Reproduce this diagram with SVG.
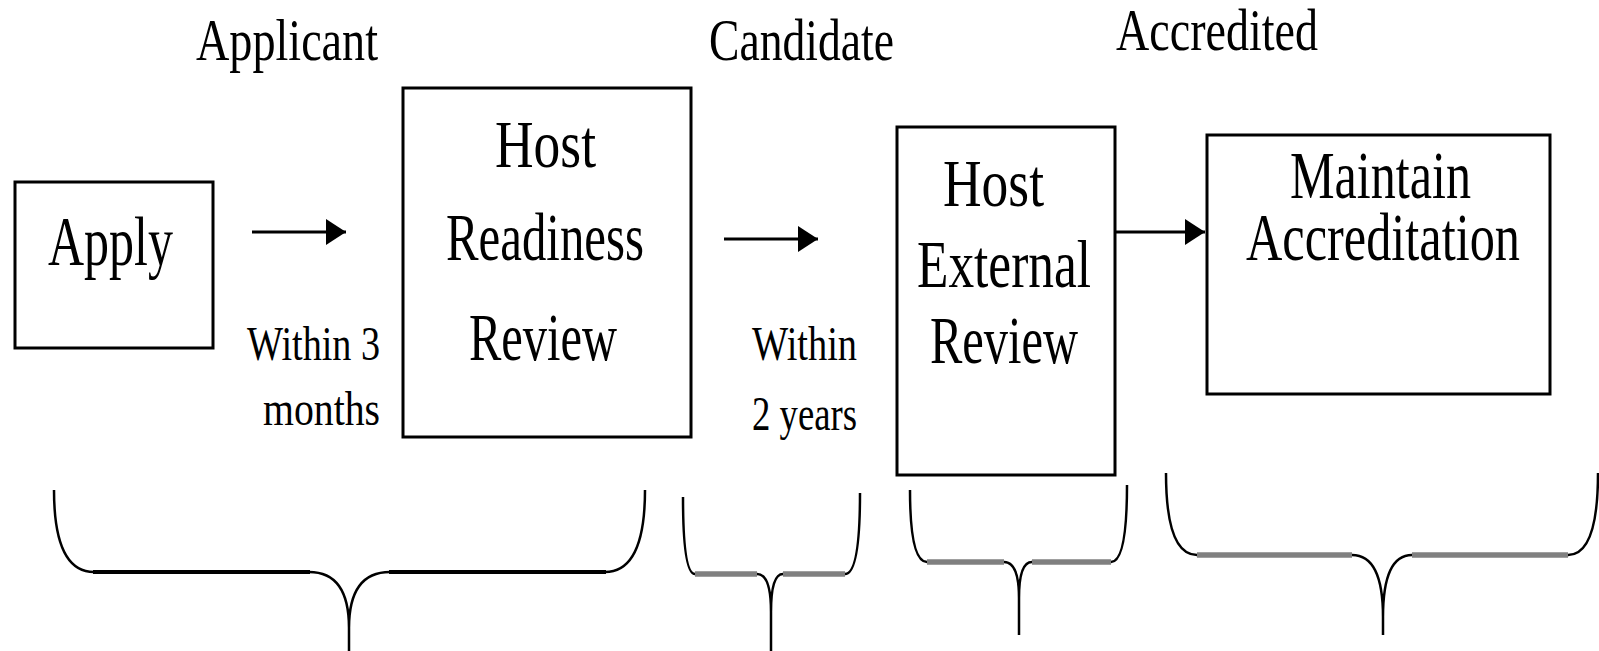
<svg xmlns="http://www.w3.org/2000/svg" width="1599" height="651" viewBox="0 0 1599 651">
<style>
.box{fill:#fff;stroke:#000;stroke-width:3}
.t{font-family:"Liberation Serif","Times New Roman",serif;fill:#000}
.big{font-size:68px}
.hdr{font-size:60px}
.sm{font-size:48px}
.conn{stroke:#000;stroke-width:3;fill:none}
.curve{stroke:#000;stroke-width:2.5;fill:none}
.hb{stroke:#000;stroke-width:4}
.hg{stroke:#808080;stroke-width:5.5}
</style>
<defs>
<marker id="ah" markerUnits="userSpaceOnUse" markerWidth="22" markerHeight="30" refX="20" refY="14" orient="auto">
<path d="M0,1 L20,14 L0,27 z" fill="#000"/>
</marker>
</defs>
<rect width="1599" height="651" fill="#fff"/>
<g id="headers">
<text class="t hdr" x="196" y="60" textLength="182" lengthAdjust="spacingAndGlyphs">Applicant</text>
<text class="t hdr" x="709" y="60" textLength="185" lengthAdjust="spacingAndGlyphs">Candidate</text>
<text class="t hdr" x="1116" y="50" textLength="202" lengthAdjust="spacingAndGlyphs">Accredited</text>
</g>
<g id="apply">
<rect class="box" x="15" y="182" width="198" height="166"/>
<text class="t" style="font-size:70px" x="48" y="265" textLength="125" lengthAdjust="spacingAndGlyphs">Apply</text>
</g>
<g id="readiness">
<rect class="box" x="403" y="88" width="288" height="349"/>
<text class="t big" x="495" y="167" textLength="101" lengthAdjust="spacingAndGlyphs">Host</text>
<text class="t big" x="446" y="260" textLength="198" lengthAdjust="spacingAndGlyphs">Readiness</text>
<text class="t big" x="469" y="360" textLength="148" lengthAdjust="spacingAndGlyphs">Review</text>
</g>
<g id="external">
<rect class="box" x="897" y="127" width="218" height="348"/>
<text class="t big" x="943" y="206" textLength="101" lengthAdjust="spacingAndGlyphs">Host</text>
<text class="t big" x="917" y="287" textLength="174" lengthAdjust="spacingAndGlyphs">External</text>
<text class="t big" x="930" y="363" textLength="148" lengthAdjust="spacingAndGlyphs">Review</text>
</g>
<g id="maintain">
<rect class="box" x="1207" y="135" width="343" height="259"/>
<text class="t big" x="1290" y="198" textLength="181" lengthAdjust="spacingAndGlyphs">Maintain</text>
<text class="t big" x="1246" y="260" textLength="274" lengthAdjust="spacingAndGlyphs">Accreditation</text>
</g>
<g id="connectors">
<line class="conn" x1="252" y1="232" x2="346" y2="232" marker-end="url(#ah)"/>
<line class="conn" x1="724" y1="239" x2="818" y2="239" marker-end="url(#ah)"/>
<line class="conn" x1="1115" y1="232" x2="1205" y2="232" marker-end="url(#ah)"/>
<text class="t sm" x="247" y="360" textLength="133" lengthAdjust="spacingAndGlyphs">Within 3</text>
<text class="t sm" x="263" y="425" textLength="117" lengthAdjust="spacingAndGlyphs">months</text>
<text class="t sm" x="752" y="360" textLength="105" lengthAdjust="spacingAndGlyphs">Within</text>
<text class="t sm" x="752" y="430" textLength="105" lengthAdjust="spacingAndGlyphs">2 years</text>
</g>
<g id="brace1">
<path class="curve" d="M54,490 Q54,572 94,572 M309,572 Q349,572 349,628 L349,651 M390,572 Q349,572 349,628 M605,572 Q645,572 645,490"/>
<line class="hb" x1="93" y1="572" x2="310" y2="572"/>
<line class="hb" x1="389" y1="572" x2="606" y2="572"/>
</g>
<g id="brace2">
<path class="curve" d="M683,497 Q683,574 695,574 M757,574 Q771,574 771,612 L771,651 M783,574 Q771,574 771,612 M845,574 Q860,574 860,493"/>
<line class="hg" x1="695" y1="574" x2="757" y2="574"/>
<line class="hg" x1="783" y1="574" x2="845" y2="574"/>
</g>
<g id="brace3">
<path class="curve" d="M910,490 Q910,562 927,562 M1004,562 Q1019,562 1019,598 L1019,635 M1032,562 Q1019,562 1019,598 M1111,562 Q1127,562 1127,485"/>
<line class="hg" x1="927" y1="562" x2="1004" y2="562"/>
<line class="hg" x1="1032" y1="562" x2="1111" y2="562"/>
</g>
<g id="brace4">
<path class="curve" d="M1166,473 Q1166,555 1197,555 M1352,555 Q1383,555 1383,617 L1383,635 M1412,555 Q1383,555 1383,617 M1568,555 Q1598,555 1598,473"/>
<line class="hg" x1="1197" y1="555" x2="1352" y2="555"/>
<line class="hg" x1="1412" y1="555" x2="1568" y2="555"/>
</g>
</svg>
